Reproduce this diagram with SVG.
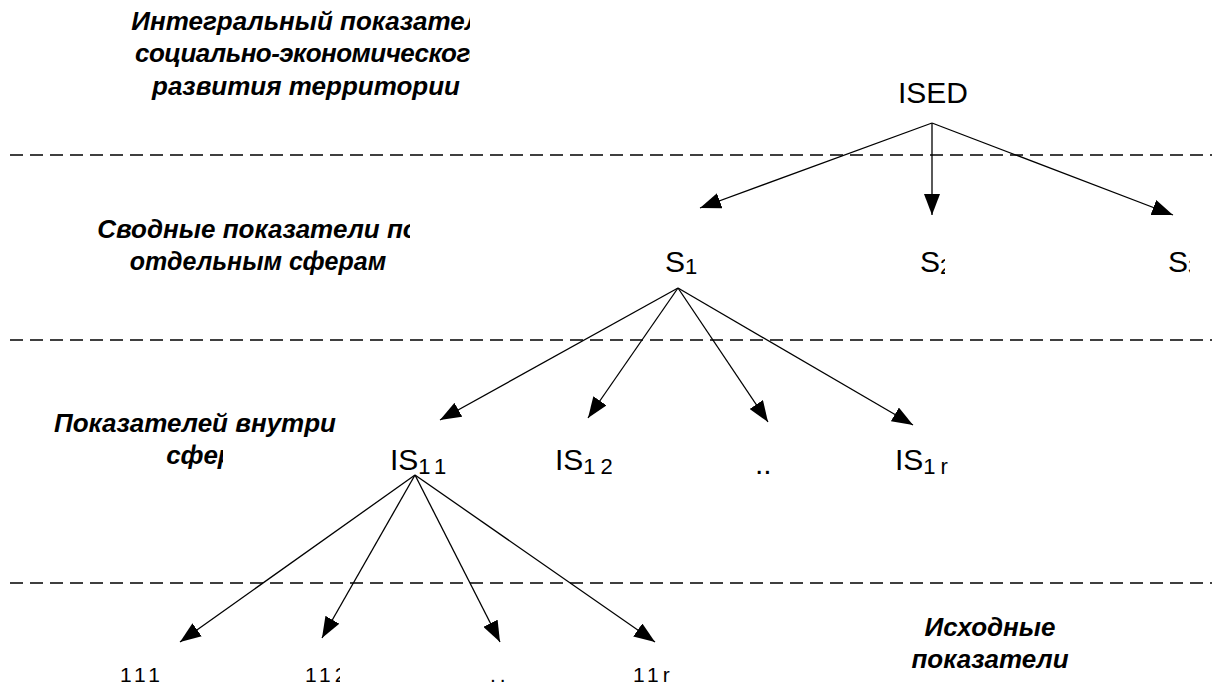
<svg xmlns="http://www.w3.org/2000/svg" width="1212" height="691" viewBox="0 0 1212 691">
<style>
.lbl{font-family:"Liberation Sans",Arial,sans-serif;font-weight:bold;font-style:italic;font-size:26px;fill:#000;text-anchor:middle}
.nd{font-family:"Liberation Sans",Arial,sans-serif;font-size:30px;fill:#000}
.sub{font-size:22px}
.num{font-family:"Liberation Sans",Arial,sans-serif;font-size:21px;fill:#000;letter-spacing:4px}
.dash{stroke:#000;stroke-width:1.3;stroke-dasharray:13 7;fill:none}
.ar{stroke:#000;stroke-width:1.3;fill:none;marker-end:url(#ah)}
</style>
<defs>
<marker id="ah" markerUnits="userSpaceOnUse" markerWidth="22" markerHeight="16" refX="21" refY="8" orient="auto">
<path d="M0,0 L21,8 L0,16 Z" fill="#000"/>
</marker>
<clipPath id="c1"><rect x="0" y="0" width="470" height="110"/></clipPath>
<clipPath id="c2"><rect x="0" y="200" width="410" height="50"/></clipPath>
<clipPath id="c3"><rect x="0" y="440" width="223" height="40"/></clipPath>
<clipPath id="c4"><rect x="880" y="230" width="65" height="60"/></clipPath>
<clipPath id="c5"><rect x="1140" y="230" width="50" height="60"/></clipPath>
<clipPath id="c6"><rect x="540" y="430" width="72" height="50"/></clipPath>
<clipPath id="c7"><rect x="290" y="650" width="50" height="40"/></clipPath>
</defs>
<rect width="1212" height="691" fill="#fff"/>
<g id="levels">
<line class="dash" x1="10" y1="155" x2="1212" y2="155"/>
<line class="dash" x1="10" y1="340" x2="1212" y2="340"/>
<line class="dash" x1="10" y1="583" x2="1212" y2="583"/>
</g>
<g id="level-labels">
<g clip-path="url(#c1)">
<text class="lbl" x="314" y="30">Интегральный показатель</text>
<text class="lbl" x="310" y="62" textLength="350">социально-экономического</text>
</g>
<text class="lbl" x="306" y="95">развития территории</text>
<text class="lbl" x="258" y="238" clip-path="url(#c2)">Сводные показатели по</text>
<text class="lbl" x="258" y="270" style="font-size:25px">отдельным сферам</text>
<text class="lbl" x="195" y="432">Показателей внутри</text>
<text class="lbl" x="200" y="464" clip-path="url(#c3)">сфер</text>
<text class="lbl" x="990" y="636">Исходные</text>
<text class="lbl" x="990" y="668">показатели</text>
</g>
<g id="connectors">
<line class="ar" x1="932" y1="123" x2="700" y2="208"/>
<line class="ar" x1="932" y1="123" x2="932" y2="215"/>
<line class="ar" x1="932" y1="123" x2="1173" y2="215"/>
<line class="ar" x1="678" y1="288" x2="440" y2="420"/>
<line class="ar" x1="678" y1="288" x2="588" y2="418"/>
<line class="ar" x1="678" y1="288" x2="768" y2="422"/>
<line class="ar" x1="678" y1="288" x2="913" y2="425"/>
<line class="ar" x1="415" y1="475" x2="180" y2="642"/>
<line class="ar" x1="415" y1="475" x2="322" y2="638"/>
<line class="ar" x1="415" y1="475" x2="500" y2="642"/>
<line class="ar" x1="415" y1="475" x2="655" y2="642"/>
</g>
<g id="node-ISED"><text class="nd" x="898" y="103">ISED</text></g>
<g id="node-S1"><text class="nd" x="665" y="272">S<tspan class="sub" dy="2">1</tspan></text></g>
<g id="node-S2" clip-path="url(#c4)"><text class="nd" x="920" y="272">S<tspan class="sub" dy="2">2</tspan></text></g>
<g id="node-S3" clip-path="url(#c5)"><text class="nd" x="1168" y="272">S<tspan class="sub" dy="2">3</tspan></text></g>
<g id="node-IS11"><text class="nd" x="390" y="470">IS<tspan class="sub" dy="4" letter-spacing="5">11</tspan></text></g>
<g id="node-IS12" clip-path="url(#c6)"><text class="nd" x="555" y="470">IS<tspan class="sub" dy="4" letter-spacing="5">12</tspan></text></g>
<g id="node-dots1"><text class="nd" x="755" y="474">..</text></g>
<g id="node-IS1r"><text class="nd" x="895" y="470">IS<tspan class="sub" dy="4" letter-spacing="5">1r</tspan></text></g>
<g id="node-111"><text class="num" x="120" y="682">111</text></g>
<g id="node-112" clip-path="url(#c7)"><text class="num" x="305" y="682">112</text></g>
<g id="node-dots2"><text class="num" x="490" y="682">..</text></g>
<g id="node-11r"><text class="num" x="633" y="682">11r</text></g>
</svg>
